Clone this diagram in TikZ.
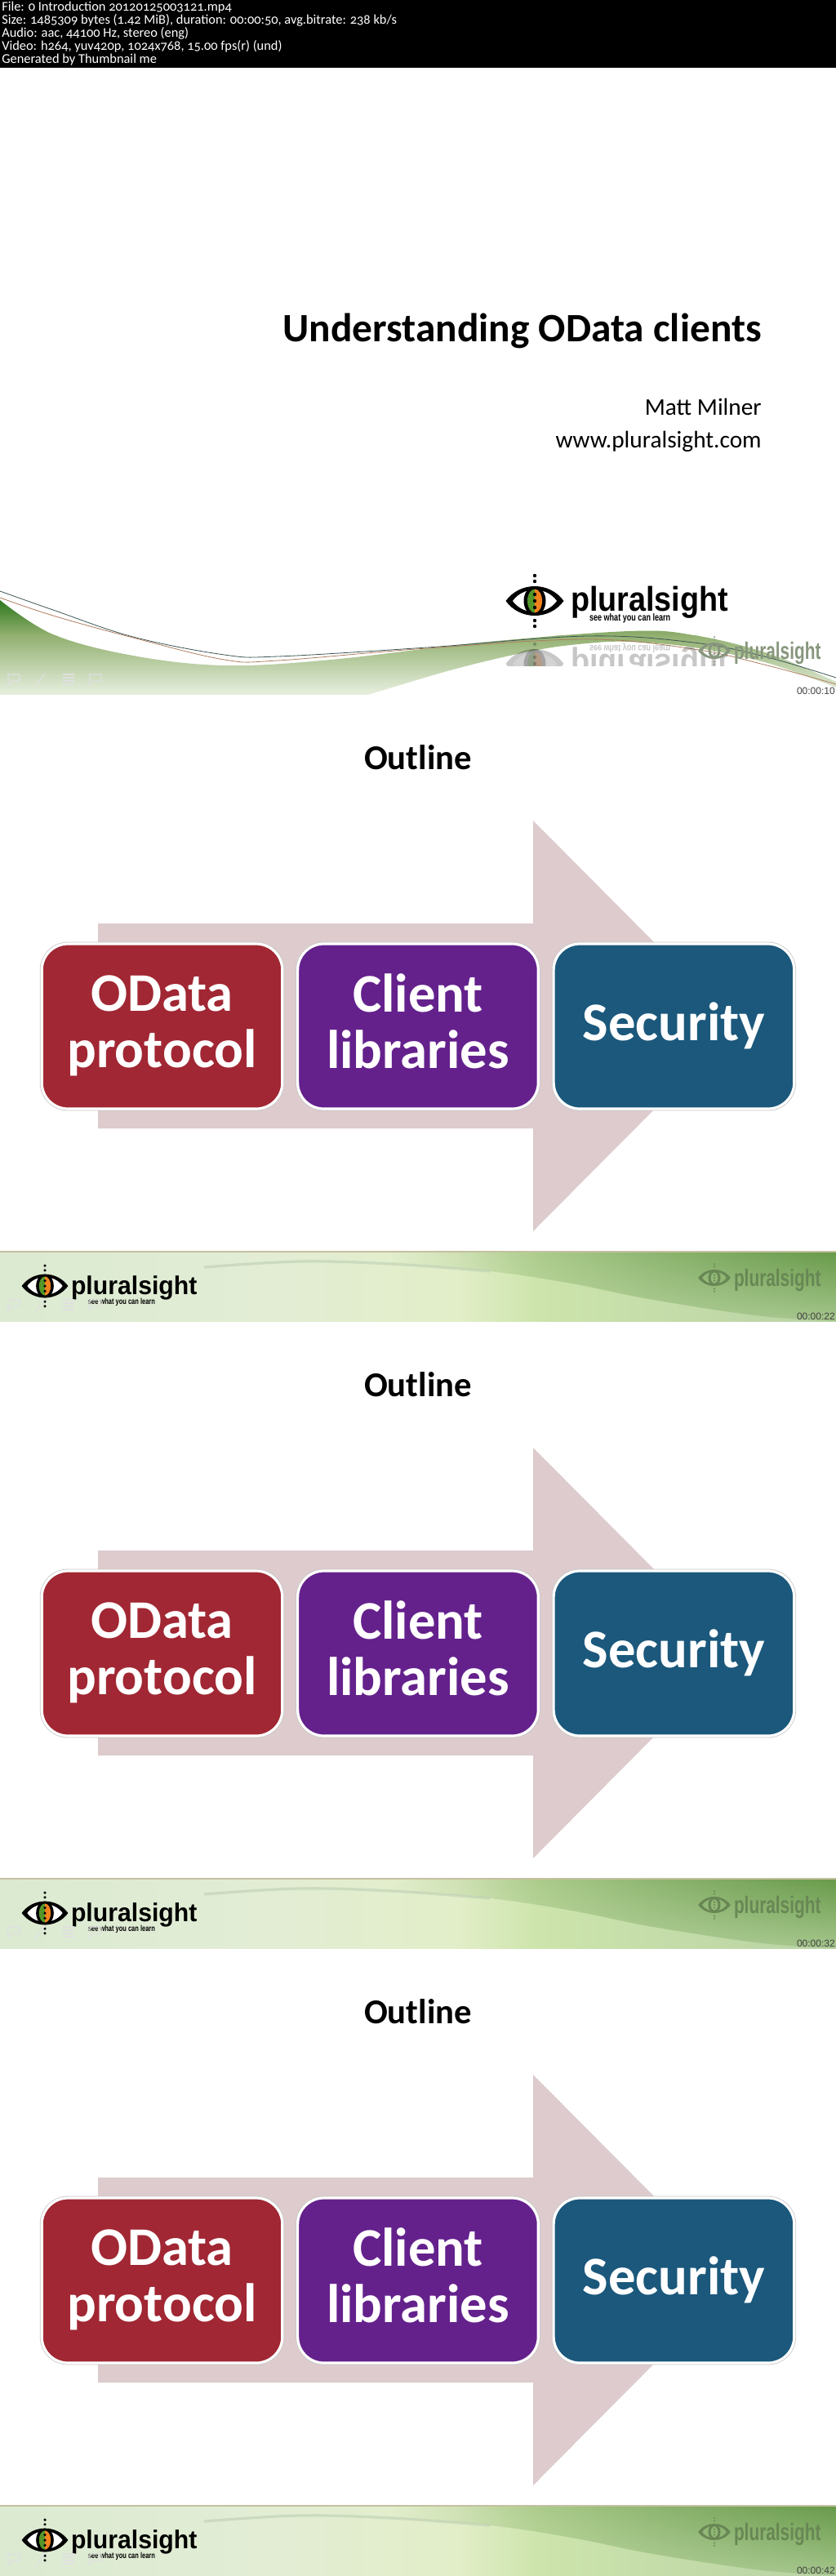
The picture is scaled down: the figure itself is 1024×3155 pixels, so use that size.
\documentclass[tikz,border=0pt]{standalone}
\usepackage{fontspec}
\setmainfont{Carlito}
\newfontfamily\logofont{Liberation Sans}
\usetikzlibrary{positioning, fadings}
\definecolor{odatared}{RGB}{160,39,51}
\definecolor{clientpurple}{RGB}{100,33,140}
\definecolor{securityblue}{RGB}{27,88,124}
\definecolor{arrowpink}{RGB}{221,203,205}
\definecolor{eyegreen}{RGB}{84,150,40}
\definecolor{eyeorange}{RGB}{240,130,30}
\definecolor{ghostgray}{RGB}{135,150,125}
\definecolor{ghostgreen}{RGB}{104,135,84}
\definecolor{bandtan}{RGB}{196,192,160}
\definecolor{swooshdark}{RGB}{46,120,30}
\definecolor{swooshmid}{RGB}{146,176,112}
\definecolor{swooshpale}{RGB}{232,240,224}
\definecolor{strandblue}{RGB}{60,85,85}
\definecolor{strandbrown}{RGB}{175,125,95}
\definecolor{bannerA}{RGB}{220,234,210}
\definecolor{bannerB}{RGB}{226,237,212}
\definecolor{bannerC}{RGB}{226,238,200}
\definecolor{bannerD}{RGB}{205,228,172}
\definecolor{bannerE}{RGB}{184,210,164}
\definecolor{bandtop}{RGB}{105,155,75}
\definecolor{bandlow}{RGB}{165,198,140}
\definecolor{bandline}{RGB}{190,208,180}
\tikzfading[name=bandfade, left color=transparent!100, right color=transparent!0]
\tikzset{
  boxnode/.style={rounded corners=24pt, draw=white, line width=2.4pt,
    preaction={draw=black!22, line width=3.6pt}, text=white, align=center,
    minimum width=221pt, minimum height=151.5pt, inner sep=0pt, outer sep=0pt,
    font=\fontsize{50}{52}\selectfont\bfseries},
  logotext/.style={anchor=base west, inner sep=0pt, outer sep=0pt},
  timecode/.style={anchor=east, inner sep=0pt, text=black!75, font=\logofont\fontsize{9}{10}\selectfont},
  navicon/.style={draw=black!12, line width=0.9pt},
  eyelogo/.pic={
    \fill[black] (-35.5,0) .. controls (-18,-24) and (18,-24) .. (35.5,0) .. controls (18,24) and (-18,24) .. (-35.5,0);
    \fill[white] (-27,0) .. controls (-14,-18) and (14,-18) .. (27,0) .. controls (14,18) and (-14,18) .. (-27,0);
    \fill[black] (0,0) ellipse [x radius=13.5, y radius=18];
    \fill[eyegreen] (0,-14.5) arc[start angle=270, end angle=90, x radius=9, y radius=14.5] -- cycle;
    \fill[eyeorange] (0,-14.5) arc[start angle=270, end angle=450, x radius=9, y radius=14.5] -- cycle;
    \foreach \d in {-31,-24,-8,0,8,24,31}
      \fill[black] (0,\d) circle (2.2);
  },
  ghosteye/.pic={
    \path[pic actions, even odd rule] (-35.5,0) .. controls (-18,-24) and (18,-24) .. (35.5,0) .. controls (18,24) and (-18,24) .. (-35.5,0)
      (-27,0) .. controls (-14,-18) and (14,-18) .. (27,0) .. controls (14,18) and (-14,18) .. (-27,0);
    \path[pic actions, even odd rule] (0,0) ellipse [x radius=13.5, y radius=17] (0,0) ellipse [x radius=8, y radius=12];
    \foreach \d in {-30,-24,-6,0,6,24,30}
      \path[pic actions] (0,\d) circle (2);
  },
  navicons/.pic={
    \draw[navicon] (-8,-6) -- (6,-6) -- (6,2) -- (-4,2) -- (-8,7) -- cycle;
    \draw[navicon] (25,9) -- (37,-7);
    \foreach \d in {-6,-2,2,6}
      \draw[navicon] (59,\d) -- (73,\d);
    \draw[navicon] (92,-6) -- (106,-6) -- (106,2) -- (96,2) -- (92,7) -- cycle;
  }
}
\newcommand{\boxstrut}{\rule[-9.5pt]{0pt}{42.5pt}}
\begin{document}
\begin{tikzpicture}[x=0.75pt, y=-0.75pt]
  \useasboundingbox (0,0) rectangle (1024,3155);
  \fill[white] (0,0) rectangle (1024,3155);
  % Header
  \fill[black] (0,0) rectangle (1024,83);
  \node[anchor=north west, inner sep=0pt, text=white, align=left, font=\fontsize{12.3}{12}\selectfont\addfontfeatures{Numbers=OldStyle}] (header) at (2,2)
    {File: 0 Introduction 20120125003121.mp4\\
     Size: 1485309 bytes (1.42 MiB), duration: 00:00:50, avg.bitrate: 238 kb/s\\
     Audio: aac, 44100 Hz, stereo (eng)\\
     Video: h264, yuv420p, 1024x768, 15.00 fps(r) (und)\\
     Generated by Thumbnail me};
  % Title slide
  \node[anchor=base east, inner sep=0pt, font=\fontsize{37}{40}\selectfont\bfseries] (title) at (933,418) {Understanding OData clients};
  \node[anchor=base east, inner sep=0pt, font=\fontsize{22}{26}\selectfont] (author) at (933,508) {Matt Milner};
  \node[anchor=base east, inner sep=0pt, font=\fontsize{22}{26}\selectfont] (site) at (933,548) {www.pluralsight.com};
  % Swoosh
  \begin{scope}
    \clip plot[smooth,tension=0.6] coordinates {(0,735)(65,777)(163,803)(275,815)(405,808)(588,787)(771,773)(850,778)(940,800)(1024,835)}
      -- plot[smooth,tension=0.6] coordinates {(1024,842)(940,812)(850,793)(771,786)(719,788)(653,797)(555,820)(451,851)} -- (0,851) -- cycle;
    \shade[top color=swooshdark, bottom color=swooshmid] (0,735) rectangle (1024,778);
    \shade[top color=swooshmid, bottom color=swooshpale] (0,778) rectangle (1024,851);
  \end{scope}
  \draw[strandblue, line width=0.6pt, smooth, tension=0.6] plot coordinates {(0,724)(65,747)(163,780)(275,802)(340,804)(523,793)(719,779)(850,787)(940,805)(1024,830)};
  \draw[strandbrown, line width=0.6pt, smooth, tension=0.6] plot coordinates {(0,732)(65,754)(163,781)(275,808)(340,809)(523,794)(719,783)(850,795)(940,815)(1024,838)};
  % Logo and its reflection
  \pic at (655,736) {eyelogo};
  \node[logotext, font=\logofont\fontsize{31.5}{34}\selectfont\bfseries] (logoA) at (699,748) {\scalebox{.9}[1]{pluralsight}};
  \node[logotext, font=\logofont\fontsize{8}{9}\selectfont\bfseries] (sloganA) at (722,760) {\scalebox{.85}[1.15]{see what you can learn}};
  \begin{scope}[opacity=0.22]
    \clip (600,786) rectangle (900,815);
    \pic at (655,813) {eyelogo};
    \node[logotext, font=\logofont\fontsize{31.5}{34}\selectfont\bfseries] (mirrorA) at (699,801) {\scalebox{.9}[-1]{pluralsight}};
    \node[logotext, font=\logofont\fontsize{8}{9}\selectfont\bfseries] (mirrorB) at (722,790) {\scalebox{.85}[-1.15]{see what you can learn}};
  \end{scope}
  \pic[scale=0.56, fill=ghostgray] at (875,797) {ghosteye};
  \node[logotext, text=ghostgray, font=\logofont\fontsize{22}{24}\selectfont\bfseries] (ghostA) at (899,807) {\scalebox{.71}[1]{pluralsight}};
  \pic at (18,832) {navicons};
  \node[timecode] (timeA) at (1023,846) {00:00:10};
  % Outline slides
  \foreach \f/\t in {0/00:00:22,1/00:00:32,2/00:00:42} {
    \begin{scope}[shift={(0,768*\f)}]
      \node[inner sep=0pt, font=\fontsize{32}{36}\selectfont\bfseries] (outline\f) at (512,928) {Outline};
      % Arrow
      \fill[arrowpink] (120,1131) -- (653,1131) -- (653,1005) -- (903,1256.5) -- (653,1508) -- (653,1382) -- (120,1382) -- cycle;
      % Boxes
      \node[boxnode, fill=odatared] (odata\f) at (198.5,1257) {OData\boxstrut\\protocol\boxstrut};
      \node[boxnode, fill=clientpurple, right=14.1pt of odata\f] (client\f) {Client\boxstrut\\libraries\boxstrut};
      \node[boxnode, fill=securityblue, right=14.1pt of client\f] (security\f) {Security\boxstrut};
      % Banner
      \shade[left color=bannerA, right color=bannerB] (0,1533) rectangle (330,1618);
      \shade[left color=bannerB, right color=bannerC] (330,1533) rectangle (560,1618);
      \shade[left color=bannerC, right color=bannerD] (560,1533) rectangle (660,1618);
      \shade[left color=bannerD, right color=bannerE] (660,1533) rectangle (1024,1618);
      \shade[top color=bandtop, bottom color=bandlow, path fading=bandfade]
        plot[smooth,tension=0.6] coordinates {(480,1548)(600,1557)(700,1572)(800,1592)(933,1612)(1024,1618)} -- (1024,1534) -- (480,1534) -- cycle;
      \draw[bandline, line width=2.5pt, smooth, tension=0.6, opacity=0.6] plot coordinates {(250,1552)(366,1545)(480,1548)(600,1557)};
      \fill[bandtan] (0,1532) rectangle (1024,1534);
      \pic[scale=0.8] at (55,1575) {eyelogo};
      \node[logotext, font=\logofont\fontsize{23.6}{26}\selectfont\bfseries] (logo\f) at (87,1585) {\scalebox{.96}[1]{pluralsight}};
      \node[logotext, font=\logofont\fontsize{6.6}{8}\selectfont\bfseries] (slogan\f) at (108,1597) {\scalebox{.85}[1.15]{see what you can learn}};
      \pic[scale=0.56, fill=ghostgreen] at (875,1565) {ghosteye};
      \node[logotext, text=ghostgreen, font=\logofont\fontsize{22}{24}\selectfont\bfseries] (ghost\f) at (899,1575) {\scalebox{.71}[1]{pluralsight}};
      \pic at (18,1598) {navicons};
      \node[timecode] (time\f) at (1023,1612) {\t};
    \end{scope}
  }
\end{tikzpicture}
\end{document}
